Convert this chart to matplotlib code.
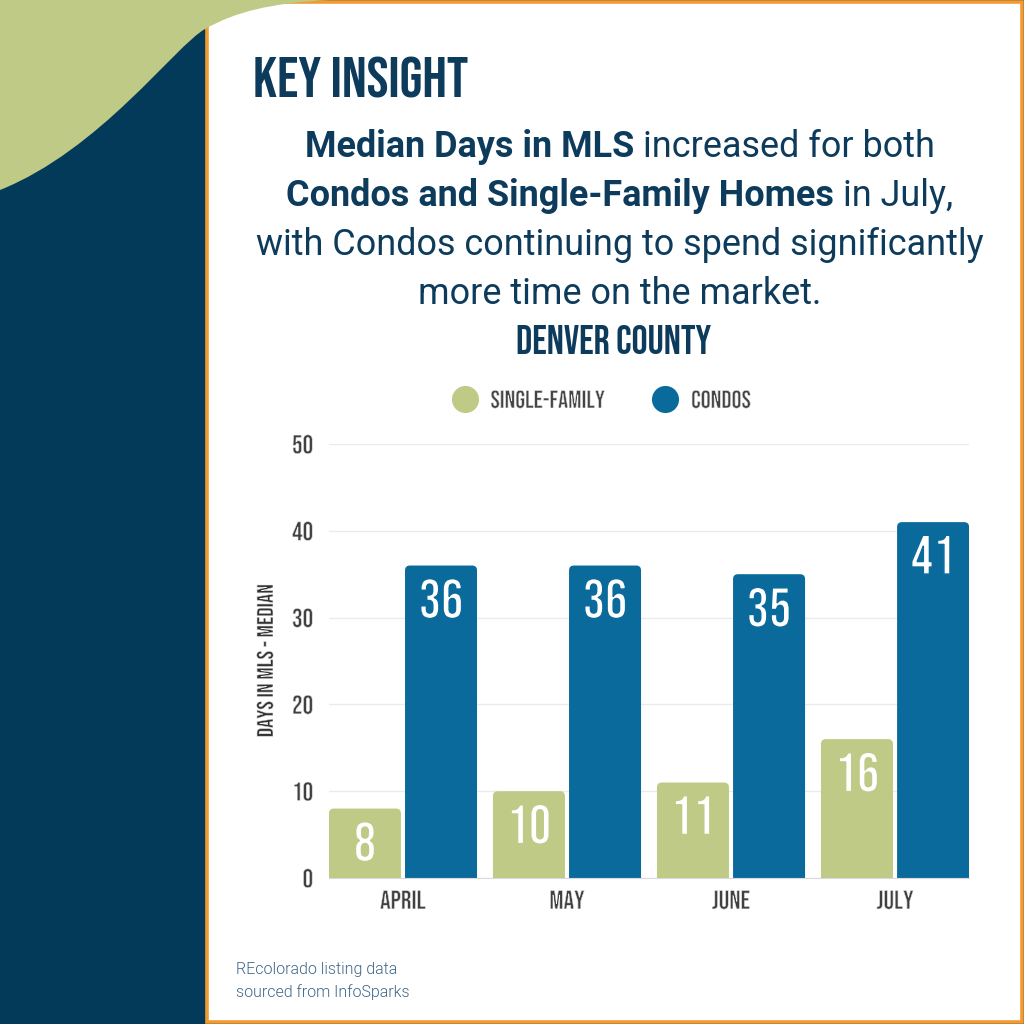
import numpy as np
import matplotlib
matplotlib.use("Agg")
import matplotlib.pyplot as plt
from matplotlib import patheffects as pe
from matplotlib.patches import Rectangle, FancyBboxPatch, PathPatch
from matplotlib.path import Path
from matplotlib.lines import Line2D
from matplotlib.offsetbox import TextArea, HPacker, AnnotationBbox

# data
months = ["APRIL", "MAY", "JUNE", "JULY"]
single_family = [8, 10, 11, 16]
condos = [36, 36, 35, 41]
series_names = ["SINGLE-FAMILY", "CONDOS"]
y_ticks = [0, 10, 20, 30, 40, 50]

NAVY = "#033A59"
GREEN = "#BECA86"
BLUE = "#0A6A9B"
ORANGE = "#F29B2F"
TEXT = "#0D3B5C"
GREY = "#404040"
COND = "Bebas Neue"

W = H = 1024.0


def fx(px):
    return px / W


def fy(py):
    return 1 - py / H


def thin(bgcolor, lw):
    # Bebas only ships one (heavy) weight; shave the outline with the background colour
    return [pe.Normal(), pe.Stroke(linewidth=lw, foreground=bgcolor)]


fig = plt.figure(figsize=(10.24, 10.24), dpi=100, facecolor=NAVY)

# background: white card with orange frame + green swoosh top-left
bg = fig.add_axes([0, 0, 1, 1])
bg.set_xlim(0, W)
bg.set_ylim(H, 0)
bg.axis("off")
bg.set_zorder(-1)
bg.add_patch(Rectangle((206.8, 1.8), 1022.2 - 206.8, 1022.2 - 1.8,
                       facecolor="white", edgecolor=ORANGE, linewidth=2.6))
verts = [(0, 0), (330, 0), (270, 3), (235, 12), (205, 29),
         (175, 46), (100, 150), (0, 190), (0, 0)]
codes = [Path.MOVETO, Path.LINETO, Path.CURVE4, Path.CURVE4, Path.CURVE4,
         Path.CURVE4, Path.CURVE4, Path.CURVE4, Path.CLOSEPOLY]
bg.add_patch(PathPatch(Path(verts, codes), facecolor=GREEN, edgecolor="none"))

# headings
fig.text(fx(253), fy(97), "KEY INSIGHT", family=COND, size=42, color=TEXT, va="baseline")

lines = [
    [("Median Days in MLS", "bold"), ("increased for both", "normal")],
    [("Condos and Single-Family Homes", "bold"), ("in July,", "normal")],
    [("with Condos continuing to spend significantly", "normal")],
    [("more time on the market.", "normal")],
]
for i, segs in enumerate(lines):
    areas = [TextArea(s, textprops=dict(family="Roboto", weight=w, size=25.9, color=TEXT))
             for s, w in segs]
    box = HPacker(children=areas, align="baseline", pad=0, sep=6.5)
    ab = AnnotationBbox(box, (fx(620), fy(147.4 + i * 48.7)), xycoords="figure fraction",
                        frameon=False, box_alignment=(0.5, 0.5), pad=0)
    bg.add_artist(ab)

fig.text(fx(614), fy(354), "DENVER COUNTY", family=COND, size=28.8, color=TEXT,
         ha="center", va="baseline")

# chart
ax = fig.add_axes([fx(329), fy(878), (969 - 329) / W, (878 - 444) / H])
ax.patch.set_visible(False)

x = np.arange(len(months))
off = 0.232
bw = 0.439
b1 = ax.bar(x - off, single_family, bw, color=GREEN)
b2 = ax.bar(x + off, condos, bw, color=BLUE)

# swap plain bars for ones with rounded tops
for rect in list(b1) + list(b2):
    rb = FancyBboxPatch((rect.get_x(), -1), rect.get_width(), rect.get_height() + 1,
                        boxstyle="round,pad=0,rounding_size=0.03", mutation_aspect=18.9,
                        facecolor=rect.get_facecolor(), edgecolor="none")
    ax.add_patch(rb)
    rect.set_visible(False)

for bars, vals, c in ((b1, single_family, GREEN), (b2, condos, BLUE)):
    for rect, v in zip(bars, vals):
        ax.annotate(str(v), (rect.get_x() + rect.get_width() / 2, v),
                    xytext=(0, -13), textcoords="offset pixels",
                    ha="center", va="top", color="white", fontsize=40, family=COND,
                    path_effects=thin(c, 1.1))

ax.set_xlim(-0.451, 3.451)
ax.set_ylim(0, 50)
ax.set_yticks(y_ticks)
ax.set_xticks(x, months)
ax.tick_params(length=0, labelsize=19, labelcolor=GREY)
ax.tick_params(axis="y", pad=11.5)
ax.tick_params(axis="x", pad=8.6)
for lab in ax.get_xticklabels() + ax.get_yticklabels():
    lab.set_family(COND)
    lab.set_path_effects(thin("white", 0.45))
ax.grid(axis="y", color="#EBEBEB", lw=1)
ax.set_axisbelow(True)
for s in ("top", "right", "left"):
    ax.spines[s].set_visible(False)
ax.spines["bottom"].set_color("#DADADA")

ax.set_ylabel("DAYS IN MLS - MEDIAN", family=COND, fontsize=16.5, color="#333333", va="center",
              path_effects=thin("white", 0.4))
ax.yaxis.set_label_coords((265 - 329) / 640, 0.5)

handles = [Line2D([], [], ls="none", marker="o", ms=19.5, mfc=c, mec="none") for c in (GREEN, BLUE)]
leg = ax.legend(handles, series_names, loc="center", bbox_to_anchor=(fx(601), fy(399)),
                bbox_transform=fig.transFigure, ncol=2, frameon=False,
                handlelength=1.08, handletextpad=0.5, columnspacing=1.9,
                prop={"family": COND, "size": 18})
for t in leg.get_texts():
    t.set_color("#444444")
    t.set_path_effects(thin("white", 0.45))

# source note
fig.text(fx(236), fy(974), "REcolorado listing data", family="Roboto", weight=300,
         size=11.5, color="#3F6787", va="baseline")
fig.text(fx(236), fy(997), "sourced from InfoSparks", family="Roboto", weight=300,
         size=11.5, color="#3F6787", va="baseline")

fig.savefig("out.png", dpi=100, facecolor=NAVY)
